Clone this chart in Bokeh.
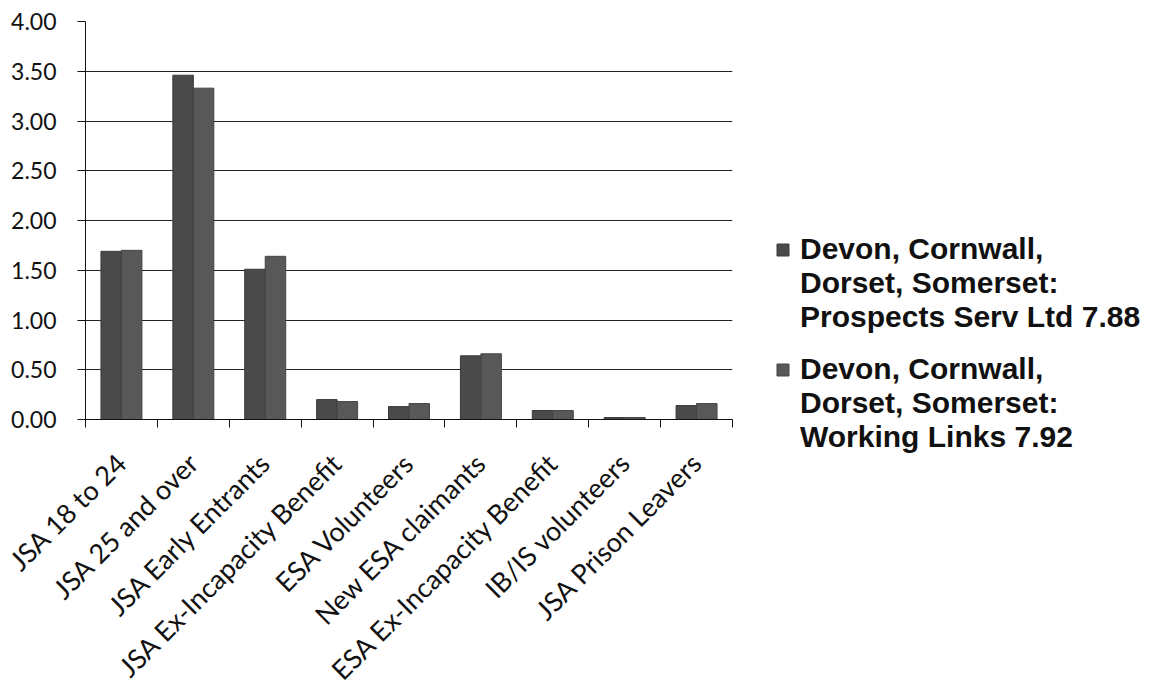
import math
from bokeh.plotting import figure
from bokeh.models import (Range1d, FixedTicker, NumeralTickFormatter, Legend, LegendItem,
                          ColumnDataSource)
from bokeh.embed import file_html
from bokeh.resources import INLINE

categories = ["JSA 18 to 24", "JSA 25 and over", "JSA Early Entrants",
              "JSA Ex-Incapacity Benefit", "ESA Volunteers", "New ESA claimants",
              "ESA Ex-Incapacity Benefit", "IB/IS volunteers", "JSA Prison Leavers"]
prospects = [1.69, 3.46, 1.51, 0.20, 0.13, 0.64, 0.09, 0.02, 0.14]
working_links = [1.70, 3.33, 1.64, 0.18, 0.16, 0.66, 0.09, 0.02, 0.16]
series_lines = [["Devon, Cornwall,", "Dorset, Somerset:", "Prospects Serv Ltd 7.88"],
                ["Devon, Cornwall,", "Dorset, Somerset:", "Working Links 7.92"]]
y_ticks = [0, 0.5, 1.0, 1.5, 2.0, 2.5, 3.0, 3.5, 4.0]

n = len(categories)
centers = [i + 0.5 for i in range(n)]
bw = 0.285

src = ColumnDataSource(dict(
    x1=[c - bw / 2 for c in centers], x2=[c + bw / 2 for c in centers],
    a=prospects, b=working_links))

p = figure(width=1165, height=689, output_backend="svg", toolbar_location=None,
           x_range=Range1d(0, n), y_range=Range1d(0, 4))
p.frame_width = 647
p.frame_height = 398
p.min_border_left = 85
p.min_border_top = 21
p.min_border_right = 433
p.min_border_bottom = 270
p.outline_line_color = None
p.background_fill_color = "white"
p.border_fill_color = "white"

r1 = p.vbar(x="x1", top="a", width=bw, source=src, fill_color="#4a4a4a", line_color="#3a3a3a")
r2 = p.vbar(x="x2", top="b", width=bw, source=src, fill_color="#585858", line_color="#444444")
# invisible renderer used for the continuation lines of the legend entries
blank = p.vbar(x=[], top=[], width=bw, fill_alpha=0, line_alpha=0)

# y axis
p.yaxis.ticker = FixedTicker(ticks=y_ticks)
p.yaxis.formatter = NumeralTickFormatter(format="0.00")
p.yaxis.major_label_text_font = "Lato"
p.yaxis.major_label_text_font_size = "23px"
p.yaxis.major_label_text_color = "#111111"
p.yaxis.major_tick_out = 8
p.yaxis.major_tick_in = 0
p.yaxis.minor_tick_out = 0
p.yaxis.minor_tick_in = 0
p.yaxis.major_label_standoff = 21
p.yaxis.axis_line_color = "#111111"
p.yaxis.major_tick_line_color = "#111111"

# x axis
p.xaxis.ticker = FixedTicker(ticks=centers, minor_ticks=list(range(n + 1)))
p.xaxis.major_label_overrides = {c: lab for c, lab in zip(centers, categories)}
p.xaxis.major_label_orientation = math.pi / 4
p.xaxis.major_label_text_font = "Lato"
p.xaxis.major_label_text_font_size = "27px"
p.xaxis.major_label_text_color = "#111111"
p.xaxis.major_tick_out = 0
p.xaxis.major_tick_in = 0
p.xaxis.minor_tick_out = 8
p.xaxis.minor_tick_in = 0
p.xaxis.minor_tick_line_color = "#111111"
p.xaxis.major_label_standoff = 30
p.xaxis.axis_line_color = "#111111"

p.xgrid.grid_line_color = None
p.ygrid.ticker = FixedTicker(ticks=y_ticks)
p.ygrid.grid_line_color = "#222222"
p.ygrid.grid_line_width = 1

items = []
for k, (lines, rend) in enumerate(zip(series_lines, [r1, r2])):
    if k > 0:
        items.append(LegendItem(label=" ", renderers=[blank]))
    items.append(LegendItem(label=lines[0], renderers=[rend]))
    items.append(LegendItem(label="\n".join(lines[1:]), renderers=[blank]))

legend = Legend(items=items, location=(43, -35))
legend.label_text_font = "Liberation Sans"
legend.label_text_font_style = "bold"
legend.label_text_font_size = "30px"
legend.label_text_color = "#111111"
legend.label_text_line_height = 0.86
legend.label_height = 18
legend.glyph_width = 15
legend.glyph_height = 15
legend.label_standoff = 10
legend.spacing = 0
legend.padding = 0
legend.margin = 0
legend.border_line_color = None
legend.background_fill_alpha = 0
p.add_layout(legend, "right")

open("out.html", "w").write(file_html(p, INLINE))
